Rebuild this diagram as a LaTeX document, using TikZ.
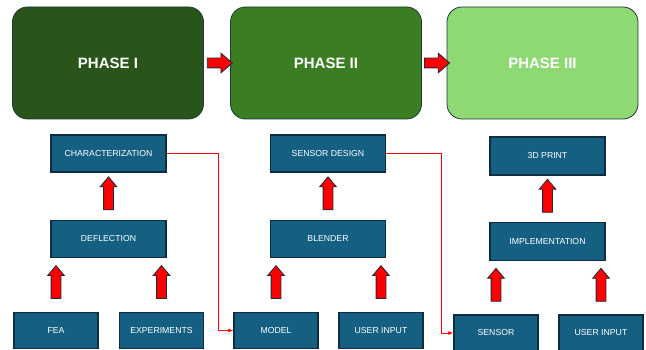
\documentclass[tikz,border=0pt]{standalone}
\usepackage{fontspec}
\setmainfont{Liberation Sans}
\usetikzlibrary{shapes.arrows,calc,arrows.meta}

\definecolor{phaseone}{HTML}{29541A}
\definecolor{phasetwo}{HTML}{3B7D23}
\definecolor{phasethree}{HTML}{8ED973}
\definecolor{phaseedge}{HTML}{1E3A36}
\definecolor{boxblue}{HTML}{156082}
\definecolor{boxedge}{HTML}{0E2D40}
\definecolor{arrowedge}{HTML}{1E2A3A}

\tikzset{
  phase/.style={draw=phaseedge, line width=0.8pt, rounded corners=15pt,
    minimum width=191, minimum height=112, text=white,
    font=\fontsize{15}{18}\selectfont\bfseries},
  stepbox/.style={draw=boxedge, line width=1.2pt, fill=boxblue, text=white,
    font=\fontsize{8.7}{10}\selectfont, minimum width=115, minimum height=37, inner sep=0pt},
  leafbox/.style={stepbox, minimum width=84, minimum height=36},
  uparrow/.style={single arrow, draw=arrowedge, fill=red, line width=0.8pt,
    shape border rotate=90, minimum height=33, minimum width=16,
    single arrow head extend=3.5pt, single arrow tip angle=80, inner sep=4.5pt},
  rightarrow/.style={single arrow, draw=arrowedge, fill=red, line width=0.8pt,
    minimum height=25, minimum width=19,
    single arrow head extend=5pt, single arrow tip angle=82, inner sep=4.5pt},
  link/.style={red, line width=0.9pt, -{Latex[length=5pt,width=4pt]}}
}

\begin{document}
\begin{tikzpicture}[x=1pt,y=-1pt]
\useasboundingbox (0,0) rectangle (646,350);

% phases
\node[phase, fill=phaseone] (p1) at (108,63) {PHASE I};
\node[phase, fill=phasetwo] (p2) at (326,63) {PHASE II};
\node[phase, fill=phasethree] (p3) at (542.5,63) {PHASE III};
\node[rightarrow] (a12) at ($(p1.east)!0.5!(p2.west)$) {};
\node[rightarrow] (a23) at ($(p2.east)!0.5!(p3.west)$) {};

% phase I
\node[stepbox] (char) at (108.5,153.5) {CHARACTERIZATION};
\node[stepbox] (defl) at (108.5,239) {DEFLECTION};
\node[leafbox] (fea) at (56,330.5) {FEA};
\node[leafbox] (exp) at (161.5,330.5) {EXPERIMENTS};

% phase II
\node[stepbox] (sdesign) at (328,153.5) {SENSOR DESIGN};
\node[stepbox] (blender) at (328,239) {BLENDER};
\node[leafbox] (model) at (276,330.5) {MODEL};
\node[leafbox] (uin2) at (381,330.5) {USER INPUT};

% phase III
\node[stepbox, minimum height=38] (print) at (547.5,156) {3D PRINT};
\node[stepbox, minimum height=38] (impl) at (547.5,241.5) {IMPLEMENTATION};
\node[leafbox] (sensor) at (496,333) {SENSOR};
\node[leafbox] (uin3) at (601,333) {USER INPUT};

% block arrows
\foreach \a/\b in {fea/defl, exp/defl, defl/char, model/blender, uin2/blender,
                   blender/sdesign, sensor/impl, uin3/impl, impl/print}
  \node[uparrow] at ($(\a.north)!0.5!(\a.north |- \b.south)$) {};

% links between phases
\draw[link] (char.east) -- ++(52,0) |- (model.west);
\draw[link] (sdesign.east) -- ++(55,0) |- (sensor.west);
\end{tikzpicture}
\end{document}
